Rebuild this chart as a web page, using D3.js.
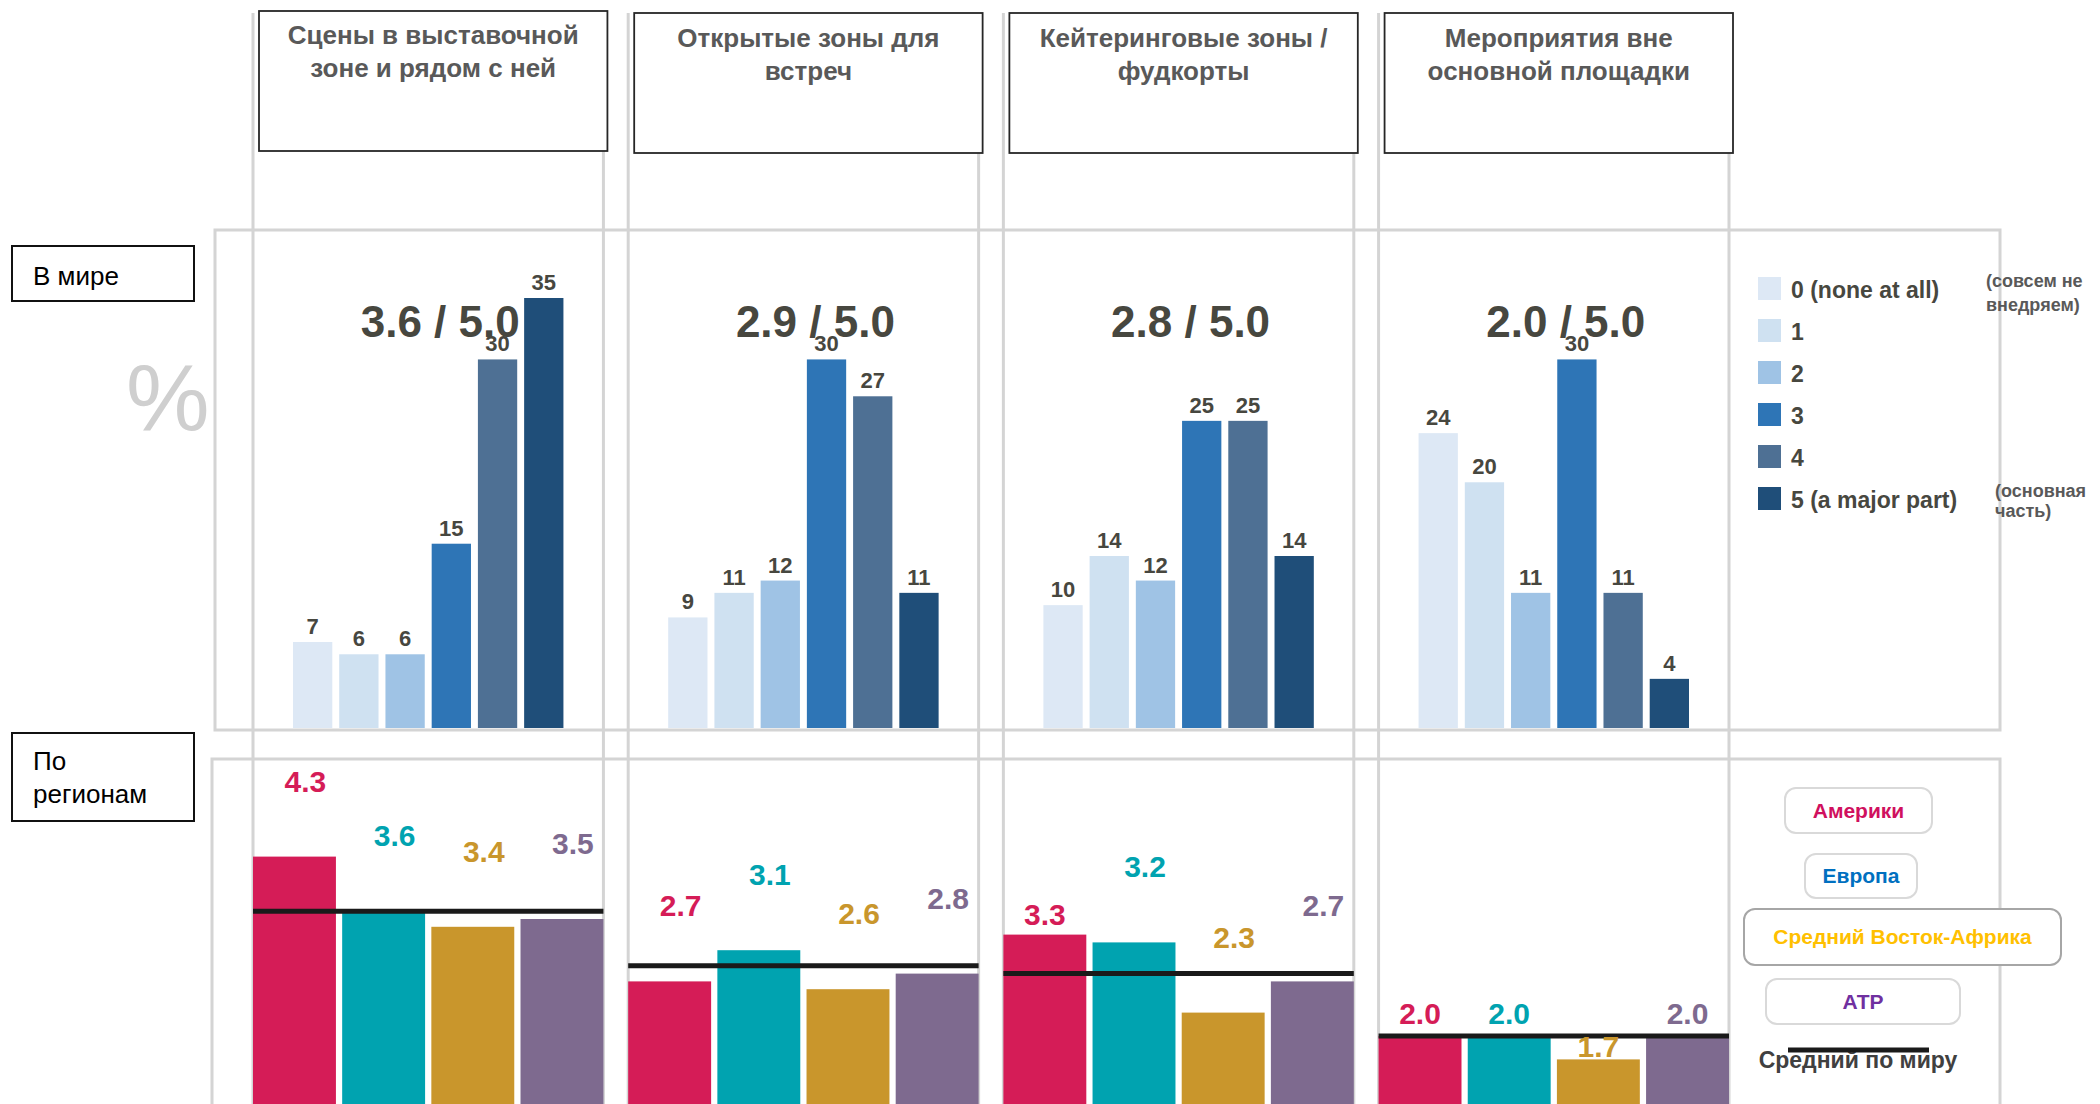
<!DOCTYPE html>
<html>
<head>
<meta charset="utf-8">
<script src="https://cdn.jsdelivr.net/npm/d3@7"></script>
<style>
  body { margin: 0; background: #fff; }
  svg { display: block; font-family: "Liberation Sans", Arial, sans-serif; }
</style>
</head>
<body>
<script>
// columns (header boxes), two lines each
var columns = [
  ["Сцены в выставочной", "зоне и рядом с ней"],
  ["Открытые зоны для", "встреч"],
  ["Кейтеринговые зоны /", "фудкорты"],
  ["Мероприятия вне", "основной площадки"]
];
// world average score out of 5
var scores = [3.6, 2.9, 2.8, 2.0];

// level legend
var levels = ["0 (none at all)", "1", "2", "3", "4", "5 (a major part)"];
var levelColors = ["#dde8f5", "#cfe1f1", "#9fc3e5", "#2e75b6", "#4e7094", "#1f4e79"];

// share of answers, %, per column
var world = [
  [7, 6, 6, 15, 30, 35],
  [9, 11, 12, 30, 27, 11],
  [10, 14, 12, 25, 25, 14],
  [24, 20, 11, 30, 11, 4]
];

// regions
var regions = ["Америки", "Европа", "Средний Восток-Африка", "АТР"];
var regionColors = ["#d51c57", "#00a3b0", "#c9962c", "#7e6a8f"];
var regionTextColors = ["#d0105e", "#0070c0", "#ffc000", "#7030a0"];
var americas = [4.3, 2.7, 3.3, 2.0];
var europe   = [3.6, 3.1, 3.2, 2.0];
var mea      = [3.4, 2.6, 2.3, 1.7];
var apac     = [3.5, 2.8, 2.7, 2.0];

var W = 2100, H = 1104;
var gray = "#d4d4d4", ink = "#47473f";

var svg = d3.select("body").append("svg")
  .attr("width", W)
  .attr("height", H);

var colX = d3.scaleBand().domain(d3.range(columns.length)).range([253, 1729]).paddingInner(0.066);
var bw = colX.bandwidth();

// panels
svg.append("rect").attr("x", 215).attr("y", 230).attr("width", 1785).attr("height", 500)
  .attr("fill", "none").attr("stroke", gray).attr("stroke-width", 3);
svg.append("rect").attr("x", 212).attr("y", 759).attr("width", 1788).attr("height", 420)
  .attr("fill", "none").attr("stroke", gray).attr("stroke-width", 3);

// column guide lines
columns.forEach(function(c, i){
  [colX(i), colX(i) + bw].forEach(function(x){
    svg.append("line").attr("x1", x).attr("x2", x).attr("y1", 13).attr("y2", H)
      .attr("stroke", gray).attr("stroke-width", 3);
  });
});

// header boxes
var head = svg.selectAll("g.head").data(columns).enter().append("g").attr("class", "head");
head.append("rect")
  .attr("x", function(d, i){ return colX(i) + 6; })
  .attr("y", function(d, i){ return i ? 13 : 11; })
  .attr("width", bw - 2)
  .attr("height", 140)
  .attr("fill", "#fff").attr("stroke", "#262626").attr("stroke-width", 1.8);
head.each(function(d, i){
  var g = d3.select(this);
  d.forEach(function(line, k){
    g.append("text")
      .attr("x", colX(i) + 5 + bw / 2)
      .attr("y", (i ? 47 : 44) + k * 33)
      .attr("text-anchor", "middle")
      .attr("font-size", 26).attr("font-weight", "bold").attr("fill", "#595959")
      .text(line);
  });
});

// row label boxes
svg.append("rect").attr("x", 12).attr("y", 246).attr("width", 182).attr("height", 55)
  .attr("fill", "#fff").attr("stroke", "#111").attr("stroke-width", 2);
svg.append("text").attr("x", 33).attr("y", 285).attr("font-size", 26).attr("fill", "#000").text("В мире");
svg.append("rect").attr("x", 12).attr("y", 733).attr("width", 182).attr("height", 88)
  .attr("fill", "#fff").attr("stroke", "#111").attr("stroke-width", 2);
svg.append("text").attr("x", 33).attr("y", 770).attr("font-size", 26).attr("fill", "#000").text("По");
svg.append("text").attr("x", 33).attr("y", 803).attr("font-size", 26).attr("fill", "#000").text("регионам");

svg.append("text").attr("x", 126).attr("y", 430).attr("font-size", 94).attr("fill", "#cfcfcf").text("%");

// top panel: world distribution
var yT = d3.scaleLinear().domain([0, 35]).range([728, 298]);

world.forEach(function(vals, i){
  var xb = d3.scaleBand().domain(d3.range(vals.length))
    .range([colX(i) + 40, colX(i) + bw - 40]).paddingInner(0.15);
  var g = svg.append("g");
  g.selectAll("rect").data(vals).enter().append("rect")
    .attr("x", function(d, k){ return xb(k); })
    .attr("y", function(d){ return yT(d); })
    .attr("width", xb.bandwidth())
    .attr("height", function(d){ return yT(0) - yT(d); })
    .attr("fill", function(d, k){ return levelColors[k]; });
  g.append("text")
    .attr("x", colX(i) + bw / 2 + 12)
    .attr("y", 337)
    .attr("text-anchor", "middle")
    .attr("font-size", 44).attr("font-weight", "bold").attr("fill", ink)
    .text(scores[i].toFixed(1) + " / 5.0");
  g.selectAll("text.v").data(vals).enter().append("text").attr("class", "v")
    .attr("x", function(d, k){ return xb(k) + xb.bandwidth() / 2; })
    .attr("y", function(d){ return yT(d) - 8; })
    .attr("text-anchor", "middle")
    .attr("font-size", 22).attr("font-weight", "bold").attr("fill", ink)
    .text(function(d){ return d; });
});

// level legend
var lg = svg.append("g");
levels.forEach(function(l, k){
  lg.append("rect").attr("x", 1758).attr("y", 277 + k * 42).attr("width", 23).attr("height", 23)
    .attr("fill", levelColors[k]);
  lg.append("text").attr("x", 1791).attr("y", 298 + k * 42)
    .attr("font-size", 23).attr("font-weight", "bold").attr("fill", ink).text(l);
});
[["(совсем не", 1986, 287], ["внедряем)", 1986, 311], ["(основная", 1995, 497], ["часть)", 1995, 517]]
  .forEach(function(t){
    lg.append("text").attr("x", t[1]).attr("y", t[2])
      .attr("font-size", 18).attr("font-weight", "bold").attr("fill", "#595959").text(t[0]);
  });

// bottom panel: regions
var series = [americas, europe, mea, apac];
var yB = d3.scaleLinear().domain([0, 5]).range([1192, 802]);
// labels that sit right on their bar (gap in px) instead of high above it
var nearLabels = { "2-0": 10, "3-0": 12, "3-1": 12, "3-2": 2, "3-3": 12 };

columns.forEach(function(c, i){
  var xr = d3.scaleBand().domain(d3.range(regions.length))
    .range([colX(i), colX(i) + bw]).paddingInner(0.07);
  var vals = series.map(function(s){ return s[i]; });
  var g = svg.append("g");
  g.selectAll("rect").data(vals).enter().append("rect")
    .attr("x", function(d, r){ return xr(r); })
    .attr("y", function(d){ return yB(d); })
    .attr("width", xr.bandwidth())
    .attr("height", function(d){ return yB(0) - yB(d); })
    .attr("fill", function(d, r){ return regionColors[r]; });
  g.append("line")
    .attr("x1", colX(i)).attr("x2", colX(i) + bw)
    .attr("y1", yB(scores[i])).attr("y2", yB(scores[i]))
    .attr("stroke", "#1a1a1a").attr("stroke-width", 5);
  g.selectAll("text").data(vals).enter().append("text")
    .attr("x", function(d, r){
      var near = nearLabels[i + "-" + r] !== undefined;
      return xr(r) + xr.bandwidth() / 2 + (near ? 0 : 11);
    })
    .attr("y", function(d, r){
      var gap = nearLabels[i + "-" + r];
      return yB(d) - (gap !== undefined ? gap : 65);
    })
    .attr("text-anchor", "middle")
    .attr("font-size", 30).attr("font-weight", "bold")
    .attr("fill", function(d, r){ return regionColors[r]; })
    .text(function(d){ return d.toFixed(1); });
});

// region legend
var rl = svg.append("g");
var boxes = [[1785, 788, 147, 45, "#d9d9d9"], [1805, 854, 112, 44, "#d9d9d9"],
             [1744, 909, 317, 56, "#a6a6a6"], [1766, 979, 194, 45, "#d9d9d9"]];
regions.forEach(function(r, k){
  var b = boxes[k];
  rl.append("rect").attr("x", b[0]).attr("y", b[1]).attr("width", b[2]).attr("height", b[3])
    .attr("rx", 11).attr("fill", "#fff").attr("stroke", b[4]).attr("stroke-width", 2);
  rl.append("text").attr("x", b[0] + b[2] / 2).attr("y", b[1] + b[3] / 2 + 7)
    .attr("text-anchor", "middle")
    .attr("font-size", 21).attr("font-weight", "bold").attr("fill", regionTextColors[k]).text(r);
});
rl.append("text").attr("x", 1858).attr("y", 1068).attr("text-anchor", "middle")
  .attr("font-size", 23).attr("font-weight", "bold").attr("fill", "#404040").text("Средний по миру");
rl.append("line").attr("x1", 1788).attr("x2", 1929).attr("y1", 1050).attr("y2", 1050)
  .attr("stroke", "#1a1a1a").attr("stroke-width", 5);
</script>
</body>
</html>
